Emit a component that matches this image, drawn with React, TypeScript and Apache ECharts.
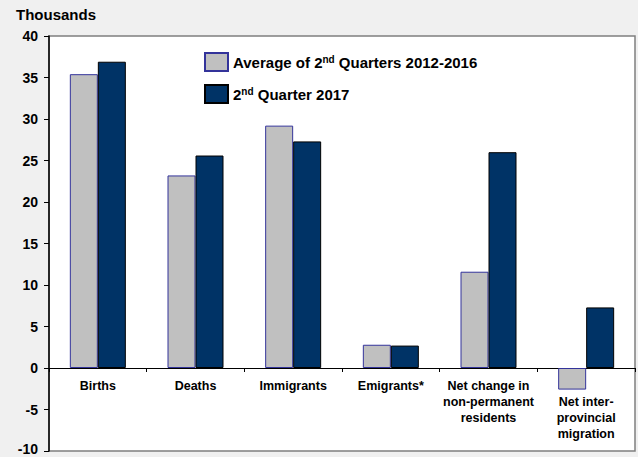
import React, { useEffect, useRef } from "react";
import * as echarts from "echarts";

const categories = [
  "Births",
  "Deaths",
  "Immigrants",
  "Emigrants*",
  "Net change in\nnon-permanent\nresidents",
  "Net inter-\nprovincial\nmigration",
];
const avgQ2_2012_2016 = [35.4, 23.2, 29.2, 2.8, 11.6, -2.6];
const q2_2017 = [36.9, 25.6, 27.3, 2.7, 26.0, 7.3];
const seriesNames = ["Average of 2nd Quarters 2012-2016", "2nd Quarter 2017"];
const yTicks = { min: -10, max: 40, interval: 5 };

const FONT = "Arial, 'Liberation Sans', sans-serif";

export default function App() {
  const ref = useRef<HTMLDivElement>(null);
  useEffect(() => {
    document.body.style.margin = "0";
    document.body.style.background = "#f0f0f0";
    const chart = echarts.init(ref.current!, null, { renderer: "svg" });
    const legendRich = {
      a: { fontFamily: FONT, fontWeight: "bold", fontSize: 15, color: "#000" },
      s: {
        fontFamily: FONT,
        fontWeight: "bold",
        fontSize: 10,
        color: "#000",
        verticalAlign: "top",
        padding: [0, 0, 6, 0],
      },
    };
    const gridTop = 36;
    const gridBottomPx = 451;
    const plotH = gridBottomPx - gridTop;
    const zeroY = gridTop + (plotH * yTicks.max) / (yTicks.max - yTicks.min);
    const xOffset = -(gridBottomPx - zeroY);
    chart.setOption({
      animation: false,
      backgroundColor: "#f0f0f0",
      textStyle: { fontFamily: FONT },
      title: {
        text: "Thousands",
        left: 16,
        top: 7,
        padding: 0,
        textStyle: { fontFamily: FONT, fontWeight: "bold", fontSize: 15, color: "#000" },
      },
      legend: {
        orient: "vertical",
        left: 204,
        top: 52,
        padding: 0,
        itemWidth: 23,
        itemHeight: 18,
        itemGap: 12,
        icon: "rect",
        data: seriesNames,
        formatter: (name: string) => {
          const m = name.match(/^(.*?)(\d)(nd)(.*)$/);
          if (!m) return "{a|" + name + "}";
          return "{a|" + m[1] + m[2] + "}{s|" + m[3] + "}{a|" + m[4] + "}";
        },
        textStyle: { rich: legendRich, fontFamily: FONT, fontWeight: "bold", fontSize: 15 },
      },
      grid: {
        left: 49,
        right: 3,
        top: gridTop,
        bottom: 457 - gridBottomPx,
        outerBoundsMode: "none",
        containLabel: false,
        show: true,
        backgroundColor: "#ffffff",
        borderColor: "#7f7f7f",
        borderWidth: 1.5,
      },
      xAxis: {
        type: "category",
        data: categories,
        position: "bottom",
        offset: xOffset,
        axisLine: { onZero: false, lineStyle: { color: "#000", width: 1 } },
        axisTick: { show: true, length: 4, inside: false, lineStyle: { color: "#000" } },
        axisLabel: {
          interval: 0,
          margin: 10,
          fontFamily: FONT,
          fontWeight: "bold",
          fontSize: 12.5,
          lineHeight: 16,
          color: "#000",
          formatter: (v: string, i: number) => (i === 5 ? "\n" + v : v),
        },
        splitLine: { show: false },
      },
      yAxis: {
        type: "value",
        min: yTicks.min,
        max: yTicks.max,
        interval: yTicks.interval,
        axisLine: { show: true, lineStyle: { color: "#000", width: 1.5 } },
        axisTick: { show: true, length: 5, lineStyle: { color: "#000" } },
        axisLabel: {
          fontFamily: FONT,
          fontWeight: "bold",
          fontSize: 14,
          color: "#000",
          margin: 11,
          formatter: (v: number) => (v === yTicks.min ? "{m|" + v + "}" : String(v)),
          rich: {
            m: {
              fontFamily: FONT,
              fontWeight: "bold",
              fontSize: 14,
              color: "#000",
              padding: [0, 0, 5, 0],
            },
          },
        },
        splitLine: { show: false },
      },
      series: [
        {
          name: seriesNames[0],
          type: "bar",
          data: avgQ2_2012_2016,
          barWidth: 28,
          barGap: "0%",
          itemStyle: { color: "#c0c0c0", borderColor: "#33339a", borderWidth: 1 },
        },
        {
          name: seriesNames[1],
          type: "bar",
          data: q2_2017,
          barWidth: 28,
          barGap: "0%",
          itemStyle: { color: "#003366", borderColor: "#000000", borderWidth: 1 },
        },
      ],
    });
    return () => chart.dispose();
  }, []);
  return <div ref={ref} style={{ width: 638, height: 457 }} />;
}
